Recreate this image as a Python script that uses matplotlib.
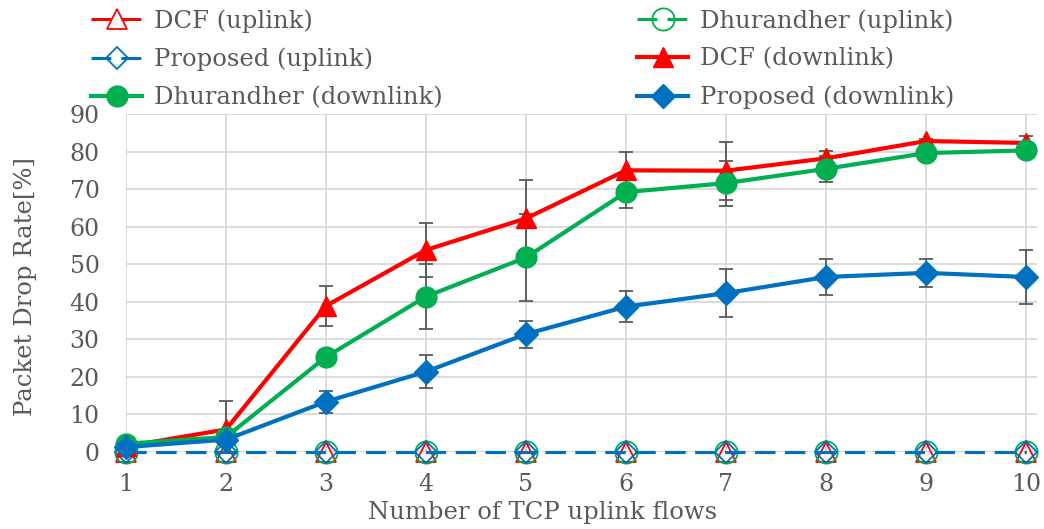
import numpy as np
import matplotlib
matplotlib.use('Agg')
import matplotlib.pyplot as plt

# number of TCP uplink flows
flows = [1, 2, 3, 4, 5, 6, 7, 8, 9, 10]

# packet drop rate [%], uplink
dcf_up = [0, 0, 0, 0, 0, 0, 0, 0, 0, 0]
dhu_up = [0, 0, 0, 0, 0, 0, 0, 0, 0, 0]
prop_up = [0, 0, 0, 0, 0, 0, 0, 0, 0, 0]

# packet drop rate [%], downlink
dcf_down = [1.5, 6.0, 38.9, 53.8, 62.2, 75.0, 74.9, 78.2, 82.8, 82.3]
dhu_down = [2.2, 4.0, 25.3, 41.4, 51.8, 69.2, 71.6, 75.4, 79.6, 80.3]
prop_down = [1.3, 3.3, 13.4, 21.4, 31.4, 38.7, 42.3, 46.6, 47.7, 46.6]

# error bar half widths
dcf_err = [0.5, 7.6, 5.3, 7.1, 10.1, 4.8, 7.7, 2.0, 0.5, 1.8]
dhu_err = [0.5, 1.0, 1.5, 8.7, 11.5, 4.2, 6.0, 3.4, 0.8, 0.8]
prop_err = [0.5, 1.0, 2.9, 4.3, 3.6, 4.1, 6.4, 4.8, 3.8, 7.3]

RED = '#FF0000'
GREEN = '#00B050'
BLUE = '#0070C0'
TXT = '#595959'
GRID = '#D9D9D9'
FS = 17.5

plt.rcParams['font.family'] = ['DejaVu Serif']
plt.rcParams['font.size'] = FS

fig = plt.figure(figsize=(10.44, 5.29), dpi=100)
ax = fig.add_axes([126 / 1044, 1 - 452 / 529, 911 / 1044, 338 / 529])

dash = (6.5, 3.3)
up_kw = dict(lw=2.2, dashes=dash, markerfacecolor='none',
             markeredgewidth=1.3, clip_on=False, zorder=3)
h1, = ax.plot(flows, dcf_up, color=RED, marker='^', markersize=14,
              label='DCF (uplink)', **up_kw)
h2, = ax.plot(flows, dhu_up, color=GREEN, marker='o', markersize=16,
              label='Dhurandher (uplink)', **up_kw)
h3, = ax.plot(flows, prop_up, color=BLUE, marker='D', markersize=11.5,
              label='Proposed (uplink)', **up_kw)

down_kw = dict(lw=3.0, clip_on=False)
for y, e in [(dcf_down, dcf_err), (dhu_down, dhu_err), (prop_down, prop_err)]:
    ax.errorbar(flows, y, yerr=e, fmt='none', ecolor=TXT, elinewidth=1.3,
                capsize=5, capthick=1.3, zorder=4)
h4, = ax.plot(flows, dcf_down, color=RED, marker='^', markersize=15,
              label='DCF (downlink)', zorder=5, **down_kw)
h5, = ax.plot(flows, dhu_down, color=GREEN, marker='o', markersize=15,
              label='Dhurandher (downlink)', zorder=6, **down_kw)
h6, = ax.plot(flows, prop_down, color=BLUE, marker='D', markersize=12,
              label='Proposed (downlink)', zorder=7, **down_kw)

ax.set_xlim(1, 10.11)
ax.set_ylim(0, 90)
ax.set_xticks(flows)
ax.set_yticks(np.arange(0, 91, 10))
ax.grid(True, color=GRID, lw=1.3)
ax.set_axisbelow(True)
for s in ax.spines.values():
    s.set_visible(False)
ax.tick_params(length=0, colors=TXT, labelsize=17)
ax.tick_params(axis='x', pad=15)
ax.tick_params(axis='y', pad=19)

ax.set_xlabel('Number of TCP uplink flows', color=TXT, fontsize=FS)
ax.xaxis.set_label_coords(0.457, -0.145)
ax.set_ylabel('Packet Drop Rate[%]', color=TXT, fontsize=FS)
ax.yaxis.set_label_coords(-0.098, 0.49)

leg_kw = dict(frameon=False, fontsize=FS, handlelength=2.1, handletextpad=0.5,
              labelspacing=0.62, borderpad=0, borderaxespad=0, labelcolor=TXT,
              loc='upper left')
leg1 = fig.legend([h1, h3, h5], [h.get_label() for h in (h1, h3, h5)],
                  bbox_to_anchor=(91 / 1044, 1 - 9 / 529), **leg_kw)
leg2 = fig.legend([h2, h4, h6], [h.get_label() for h in (h2, h4, h6)],
                  bbox_to_anchor=(637 / 1044, 1 - 9 / 529), **leg_kw)

fig.savefig('out.png', dpi=100)
